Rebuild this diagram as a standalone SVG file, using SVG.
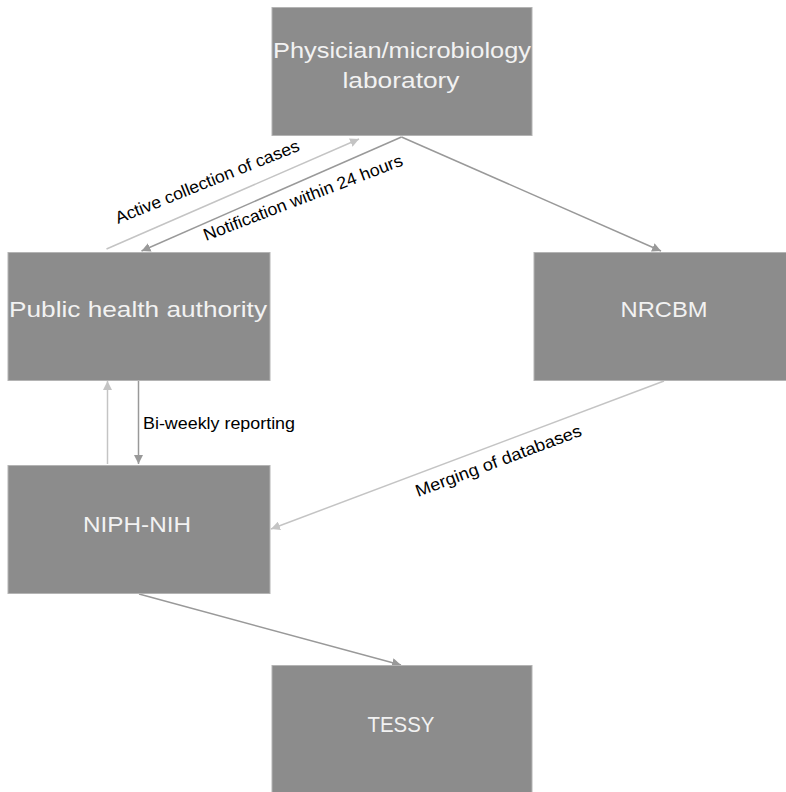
<svg xmlns="http://www.w3.org/2000/svg" width="786" height="792" viewBox="0 0 786 792">
<style>
.box{fill:#8c8c8c;stroke:#b4b4b4;stroke-width:1}
.nt{font-family:"Liberation Sans",Arial,sans-serif;font-size:22px;fill:#f2f2f2;text-anchor:middle}
.lb{font-family:"Liberation Sans",Arial,sans-serif;font-size:17px;fill:#000}
.lt{fill:none;stroke:#c4c4c4;stroke-width:1.5}
.dk{fill:none;stroke:#999999;stroke-width:1.5}
</style>
<defs>
<marker id="al" markerUnits="userSpaceOnUse" viewBox="0 0 10 10" refX="10" refY="5" markerWidth="9" markerHeight="9" orient="auto"><path d="M0,0 L10,5 L0,10 z" fill="#c4c4c4"/></marker>
<marker id="ad" markerUnits="userSpaceOnUse" viewBox="0 0 10 10" refX="10" refY="5" markerWidth="9" markerHeight="9" orient="auto"><path d="M0,0 L10,5 L0,10 z" fill="#999999"/></marker>
</defs>
<rect width="786" height="792" fill="#ffffff"/>
<g id="connectors">
<line class="lt" x1="106.5" y1="249" x2="359" y2="139" marker-end="url(#al)"/>
<line class="dk" x1="401.5" y1="137" x2="141.5" y2="251" marker-end="url(#ad)"/>
<line class="dk" x1="401.5" y1="137" x2="661" y2="251" marker-end="url(#ad)"/>
<line class="lt" x1="107.5" y1="464" x2="107.5" y2="381" marker-end="url(#al)"/>
<line class="dk" x1="138.5" y1="381" x2="138.5" y2="464" marker-end="url(#ad)"/>
<line class="lt" x1="664" y1="381" x2="271" y2="529" marker-end="url(#al)"/>
<line class="dk" x1="139" y1="594" x2="401" y2="665" marker-end="url(#ad)"/>
<text class="lb" transform="translate(118,224) rotate(-22)" textLength="197" lengthAdjust="spacingAndGlyphs">Active collection of cases</text>
<text class="lb" transform="translate(206,241) rotate(-21)" textLength="212" lengthAdjust="spacingAndGlyphs">Notification within 24 hours</text>
<text class="lb" x="143" y="429" textLength="152" lengthAdjust="spacingAndGlyphs">Bi-weekly reporting</text>
<text class="lb" transform="translate(418,497) rotate(-20.5)" textLength="176" lengthAdjust="spacingAndGlyphs">Merging of databases</text>
</g>
<g id="physician">
<rect class="box" x="272" y="7.5" width="260" height="128"/>
<text class="nt" x="402" y="58" textLength="258" lengthAdjust="spacingAndGlyphs">Physician/microbiology</text>
<text class="nt" x="401" y="88" textLength="117" lengthAdjust="spacingAndGlyphs">laboratory</text>
</g>
<g id="public-health">
<rect class="box" x="8" y="252.5" width="262" height="128"/>
<text class="nt" x="138" y="317" textLength="258" lengthAdjust="spacingAndGlyphs">Public health authority</text>
</g>
<g id="nrcbm">
<rect class="box" x="534" y="252.5" width="262" height="128"/>
<text class="nt" x="664" y="317" textLength="87" lengthAdjust="spacingAndGlyphs">NRCBM</text>
</g>
<g id="niph-nih">
<rect class="box" x="8" y="465.5" width="262" height="128"/>
<text class="nt" x="137" y="532" textLength="108" lengthAdjust="spacingAndGlyphs">NIPH-NIH</text>
</g>
<g id="tessy">
<rect class="box" x="272" y="665.5" width="260" height="140"/>
<text class="nt" x="401" y="732" textLength="67" lengthAdjust="spacingAndGlyphs">TESSY</text>
</g>
</svg>
